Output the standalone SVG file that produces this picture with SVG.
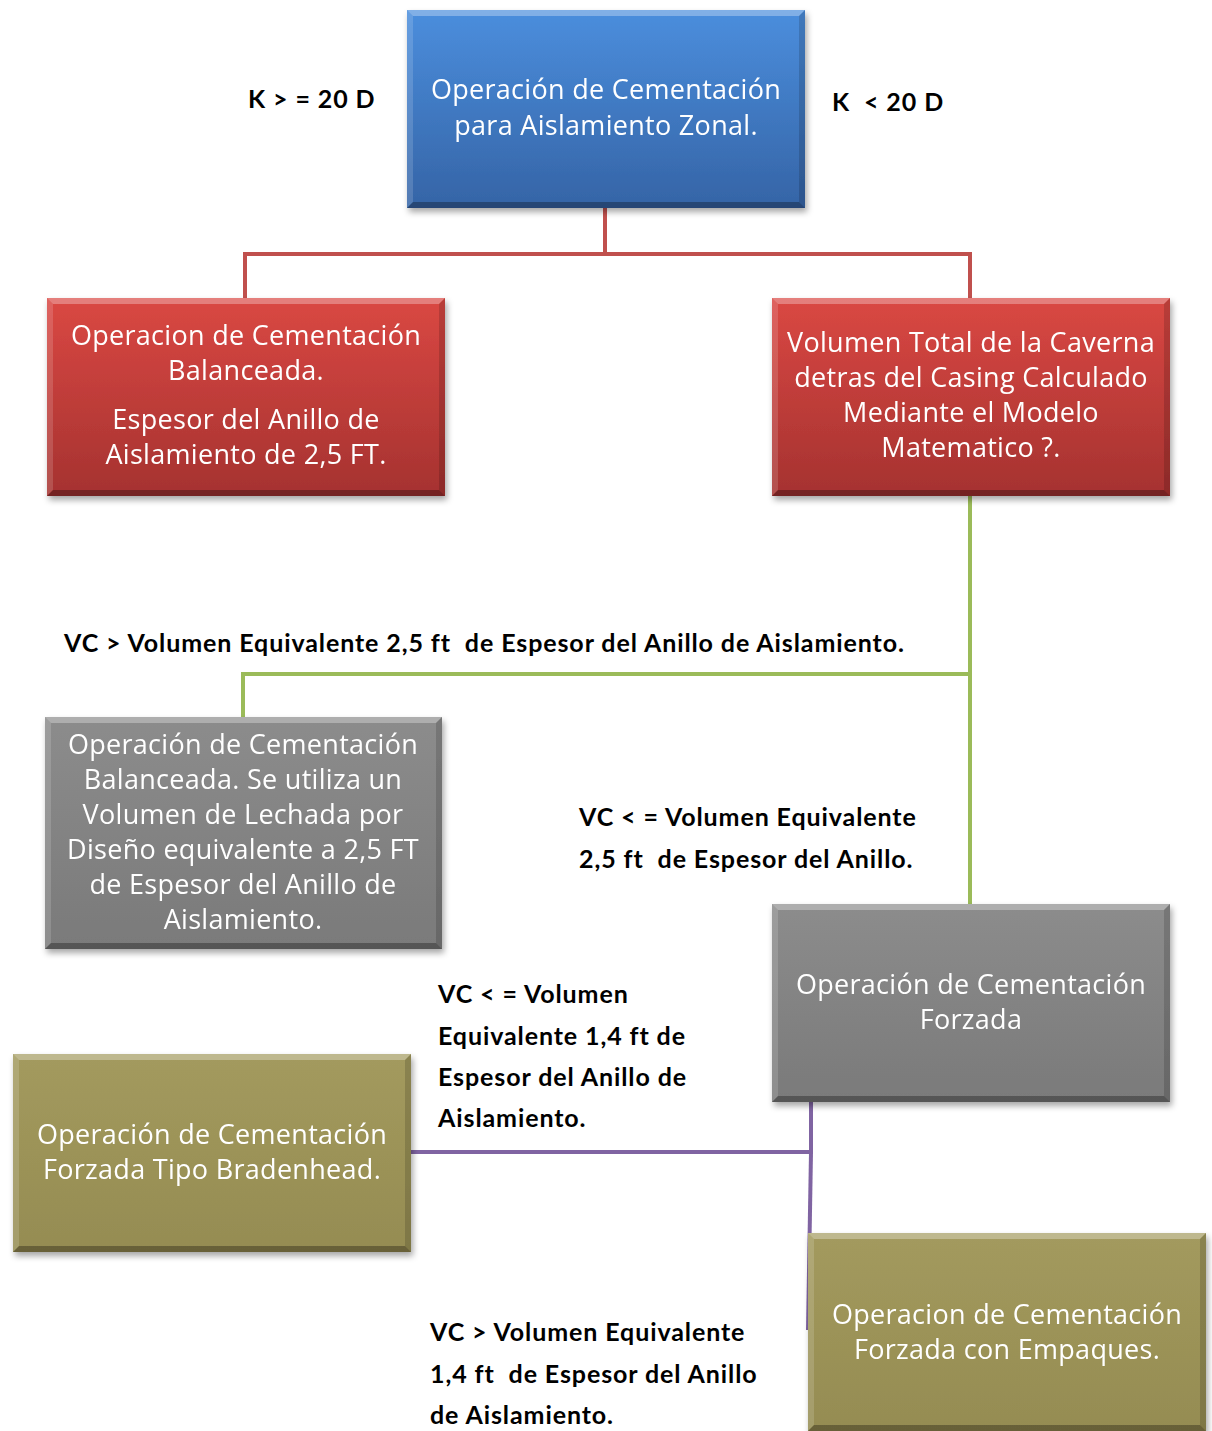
<svg xmlns="http://www.w3.org/2000/svg" xmlns:xlink="http://www.w3.org/1999/xlink" width="1212" height="1431" viewBox="0 0 1212 1431">
<style>
.bt{font-family:"Open Sans","Noto Sans",sans-serif;font-size:27px;letter-spacing:0.3px;fill:#ffffff;text-anchor:middle}
.lb{font-family:Lato,"Open Sans",sans-serif;font-size:25px;letter-spacing:0.9px;font-weight:bold;fill:#000000}
.cn{fill:none;stroke-width:4}
</style>
<defs>
<linearGradient id="gBlue" x1="0" y1="0" x2="0" y2="1"><stop offset="0" stop-color="#4b8edd"/><stop offset="1" stop-color="#3564a6"/></linearGradient>
<linearGradient id="gRed" x1="0" y1="0" x2="0" y2="1"><stop offset="0" stop-color="#da4843"/><stop offset="1" stop-color="#a53230"/></linearGradient>
<linearGradient id="gGray" x1="0" y1="0" x2="0" y2="1"><stop offset="0" stop-color="#8c8c8c"/><stop offset="1" stop-color="#7a7a7a"/></linearGradient>
<linearGradient id="gOlive" x1="0" y1="0" x2="0" y2="1"><stop offset="0" stop-color="#a39a5e"/><stop offset="1" stop-color="#958c52"/></linearGradient>
<filter id="sh" x="-5%" y="-5%" width="115%" height="120%"><feDropShadow dx="2" dy="4" stdDeviation="3" flood-color="#000" flood-opacity="0.35"/></filter>
<g id="bev">
<polygon points="0,0 398,0 392,6 6,6" fill="#fff" fill-opacity="0.3"/>
<polygon points="0,0 6,6 6,192 0,198" fill="#fff" fill-opacity="0.15"/>
<polygon points="398,0 398,198 392,192 392,6" fill="#000" fill-opacity="0.15"/>
<polygon points="0,198 398,198 392,192 6,192" fill="#000" fill-opacity="0.3"/>
</g>
<g id="bevT">
<polygon points="0,0 397,0 391,6 6,6" fill="#fff" fill-opacity="0.3"/>
<polygon points="0,0 6,6 6,226 0,232" fill="#fff" fill-opacity="0.15"/>
<polygon points="397,0 397,232 391,226 391,6" fill="#000" fill-opacity="0.15"/>
<polygon points="0,232 397,232 391,226 6,226" fill="#000" fill-opacity="0.3"/>
</g>
</defs>
<rect width="1212" height="1431" fill="#ffffff"/>
<g id="connectors">
<polyline class="cn" stroke="#c0504d" points="605,208 605,254 245,254 245,298"/>
<polyline class="cn" stroke="#c0504d" points="605,254 970,254 970,298"/>
<polyline class="cn" stroke="#9bbb59" points="970,496 970,904"/>
<polyline class="cn" stroke="#9bbb59" points="970,674 243,674 243,717"/>
<polyline class="cn" stroke="#8064a2" points="811,1101 811,1152 410,1152"/>
<polyline class="cn" stroke="#8064a2" points="811,1152 808,1330"/>
</g>
<g id="labels">
<text class="lb" x="248" y="108" xml:space="preserve">K &gt; = 20 D</text>
<text class="lb" x="832" y="111" xml:space="preserve">K  &lt; 20 D</text>
<text class="lb" x="64" y="652" xml:space="preserve">VC &gt; Volumen Equivalente 2,5 ft  de Espesor del Anillo de Aislamiento.</text>
<text class="lb" x="579" y="826">VC &lt; = Volumen Equivalente</text>
<text class="lb" x="579" y="868" xml:space="preserve">2,5 ft  de Espesor del Anillo.</text>
<text class="lb" x="438" y="1003">VC &lt; = Volumen</text>
<text class="lb" x="438" y="1045">Equivalente 1,4 ft de</text>
<text class="lb" x="438" y="1086">Espesor del Anillo de</text>
<text class="lb" x="438" y="1127">Aislamiento.</text>
<text class="lb" x="430" y="1341">VC &gt; Volumen Equivalente</text>
<text class="lb" x="430" y="1383" xml:space="preserve">1,4 ft  de Espesor del Anillo</text>
<text class="lb" x="430" y="1424">de Aislamiento.</text>
</g>
<g id="n-top" filter="url(#sh)">
<rect x="407" y="10" width="398" height="198" fill="url(#gBlue)"/>
<use xlink:href="#bev" x="407" y="10"/>
<text class="bt" x="606" y="99">Operación de Cementación</text>
<text class="bt" x="606" y="135">para Aislamiento Zonal.</text>
</g>
<g id="n-red-left" filter="url(#sh)">
<rect x="47" y="298" width="398" height="198" fill="url(#gRed)"/>
<use xlink:href="#bev" x="47" y="298"/>
<text class="bt" x="246" y="345">Operacion de Cementación</text>
<text class="bt" x="246" y="380">Balanceada.</text>
<text class="bt" x="246" y="429">Espesor del Anillo de</text>
<text class="bt" x="246" y="464">Aislamiento de 2,5 FT.</text>
</g>
<g id="n-red-right" filter="url(#sh)">
<rect x="772" y="298" width="398" height="198" fill="url(#gRed)"/>
<use xlink:href="#bev" x="772" y="298"/>
<text class="bt" x="971" y="352">Volumen Total de la Caverna</text>
<text class="bt" x="971" y="387">detras del Casing Calculado</text>
<text class="bt" x="971" y="422">Mediante el Modelo</text>
<text class="bt" x="971" y="457">Matematico ?.</text>
</g>
<g id="n-gray-left" filter="url(#sh)">
<rect x="45" y="717" width="397" height="232" fill="url(#gGray)"/>
<use xlink:href="#bevT" x="45" y="717"/>
<text class="bt" x="243" y="754">Operación de Cementación</text>
<text class="bt" x="243" y="789">Balanceada. Se utiliza un</text>
<text class="bt" x="243" y="824">Volumen de Lechada por</text>
<text class="bt" x="243" y="859">Diseño equivalente a 2,5 FT</text>
<text class="bt" x="243" y="894">de Espesor del Anillo de</text>
<text class="bt" x="243" y="929">Aislamiento.</text>
</g>
<g id="n-gray-right" filter="url(#sh)">
<rect x="772" y="904" width="398" height="198" fill="url(#gGray)"/>
<use xlink:href="#bev" x="772" y="904"/>
<text class="bt" x="971" y="994">Operación de Cementación</text>
<text class="bt" x="971" y="1029">Forzada</text>
</g>
<g id="n-olive-left" filter="url(#sh)">
<rect x="13" y="1054" width="398" height="198" fill="url(#gOlive)"/>
<use xlink:href="#bev" x="13" y="1054"/>
<text class="bt" x="212" y="1144">Operación de Cementación</text>
<text class="bt" x="212" y="1179">Forzada Tipo Bradenhead.</text>
</g>
<g id="n-olive-right" filter="url(#sh)">
<rect x="808" y="1233" width="398" height="198" fill="url(#gOlive)"/>
<use xlink:href="#bev" x="808" y="1233"/>
<text class="bt" x="1007" y="1324">Operacion de Cementación</text>
<text class="bt" x="1007" y="1359">Forzada con Empaques.</text>
</g>
</svg>
